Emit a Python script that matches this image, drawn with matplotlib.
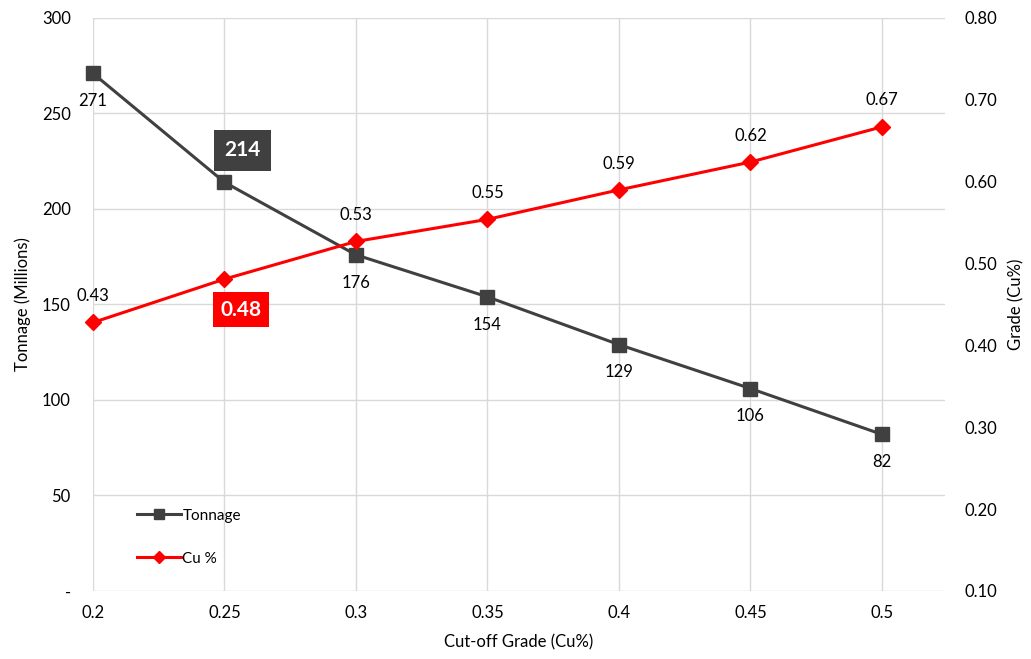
import matplotlib
matplotlib.use("Agg")
import matplotlib.pyplot as plt

plt.rcParams["font.family"] = ["Lato", "DejaVu Sans"]

cutoff = [0.2, 0.25, 0.3, 0.35, 0.4, 0.45, 0.5]
cutoff_labels = ["0.2", "0.25", "0.3", "0.35", "0.4", "0.45", "0.5"]
tonnage = [271, 214, 176, 154, 129, 106, 82]
grade = [0.428, 0.481, 0.527, 0.554, 0.590, 0.624, 0.667]

ton_color = "#404040"
cu_color = "#ff0000"
grid_color = "#d9d9d9"

fig = plt.figure(figsize=(10.31, 6.59), dpi=100)
ax = fig.add_axes([0.0902, 0.1032, 0.8264, 0.8695])
ax2 = ax.twinx()

ax.set_xlim(0.2, 0.524)
ax.set_ylim(0, 300)
ax2.set_ylim(0.1, 0.8)

ax.set_xticks(cutoff)
ax.set_xticklabels(cutoff_labels)
ax.set_yticks([0, 50, 100, 150, 200, 250, 300])
ax.set_yticklabels(["-", "50", "100", "150", "200", "250", "300"])
ax2.set_yticks([0.1, 0.2, 0.3, 0.4, 0.5, 0.6, 0.7, 0.8])
ax2.set_yticklabels(["%.2f" % v for v in ax2.get_yticks()])

ax.grid(True, color=grid_color, linewidth=1)
ax.set_axisbelow(True)
for a in (ax, ax2):
    for s in a.spines.values():
        s.set_visible(False)
ax.tick_params(axis="both", length=0, labelsize=12, colors="black")
ax.tick_params(axis="y", pad=16)
ax.tick_params(axis="x", pad=10)
ax2.tick_params(axis="y", length=0, labelsize=12, pad=14)

ax.set_ylabel("Tonnage (Millions)", fontsize=12, labelpad=8)
ax2.set_ylabel("Grade (Cu%)", fontsize=12, labelpad=8)
ax.set_xlabel("Cut-off Grade (Cu%)", fontsize=12, labelpad=10)

l1, = ax.plot(cutoff, tonnage, color=ton_color, linewidth=2.2, marker="s",
              markersize=10, label="Tonnage", clip_on=False, zorder=3)
l2, = ax2.plot(cutoff, grade, color=cu_color, linewidth=2.2, marker="D",
               markersize=8, label="Cu %", clip_on=False, zorder=3)

for i, (x, t) in enumerate(zip(cutoff, tonnage)):
    if i == 1:
        ax.annotate(str(t), (x, t), xytext=(13, 23), textcoords="offset points",
                    ha="center", va="center", fontsize=15, fontweight="bold",
                    color="white",
                    bbox=dict(boxstyle="square,pad=0.5", fc=ton_color, ec="none"))
    else:
        ax.annotate(str(t), (x, t), xytext=(0, -20), textcoords="offset points",
                    ha="center", va="center", fontsize=12)

for i, (x, g) in enumerate(zip(cutoff, grade)):
    if i == 1:
        ax2.annotate("%.2f" % g, (x, g), xytext=(12, -22), textcoords="offset points",
                     ha="center", va="center", fontsize=15, fontweight="bold",
                     color="white",
                     bbox=dict(boxstyle="square,pad=0.35", fc=cu_color, ec="none"))
    else:
        ax2.annotate("%.2f" % g, (x, g), xytext=(0, 19), textcoords="offset points",
                     ha="center", va="center", fontsize=12)

ax2.legend(handles=[l1, l2], loc="lower left", bbox_to_anchor=(0.035, 0.02),
           frameon=False, fontsize=11, handlelength=2.9, handletextpad=0.1,
           labelspacing=1.9, markerscale=0.75)

fig.savefig("out.png", dpi=100)
